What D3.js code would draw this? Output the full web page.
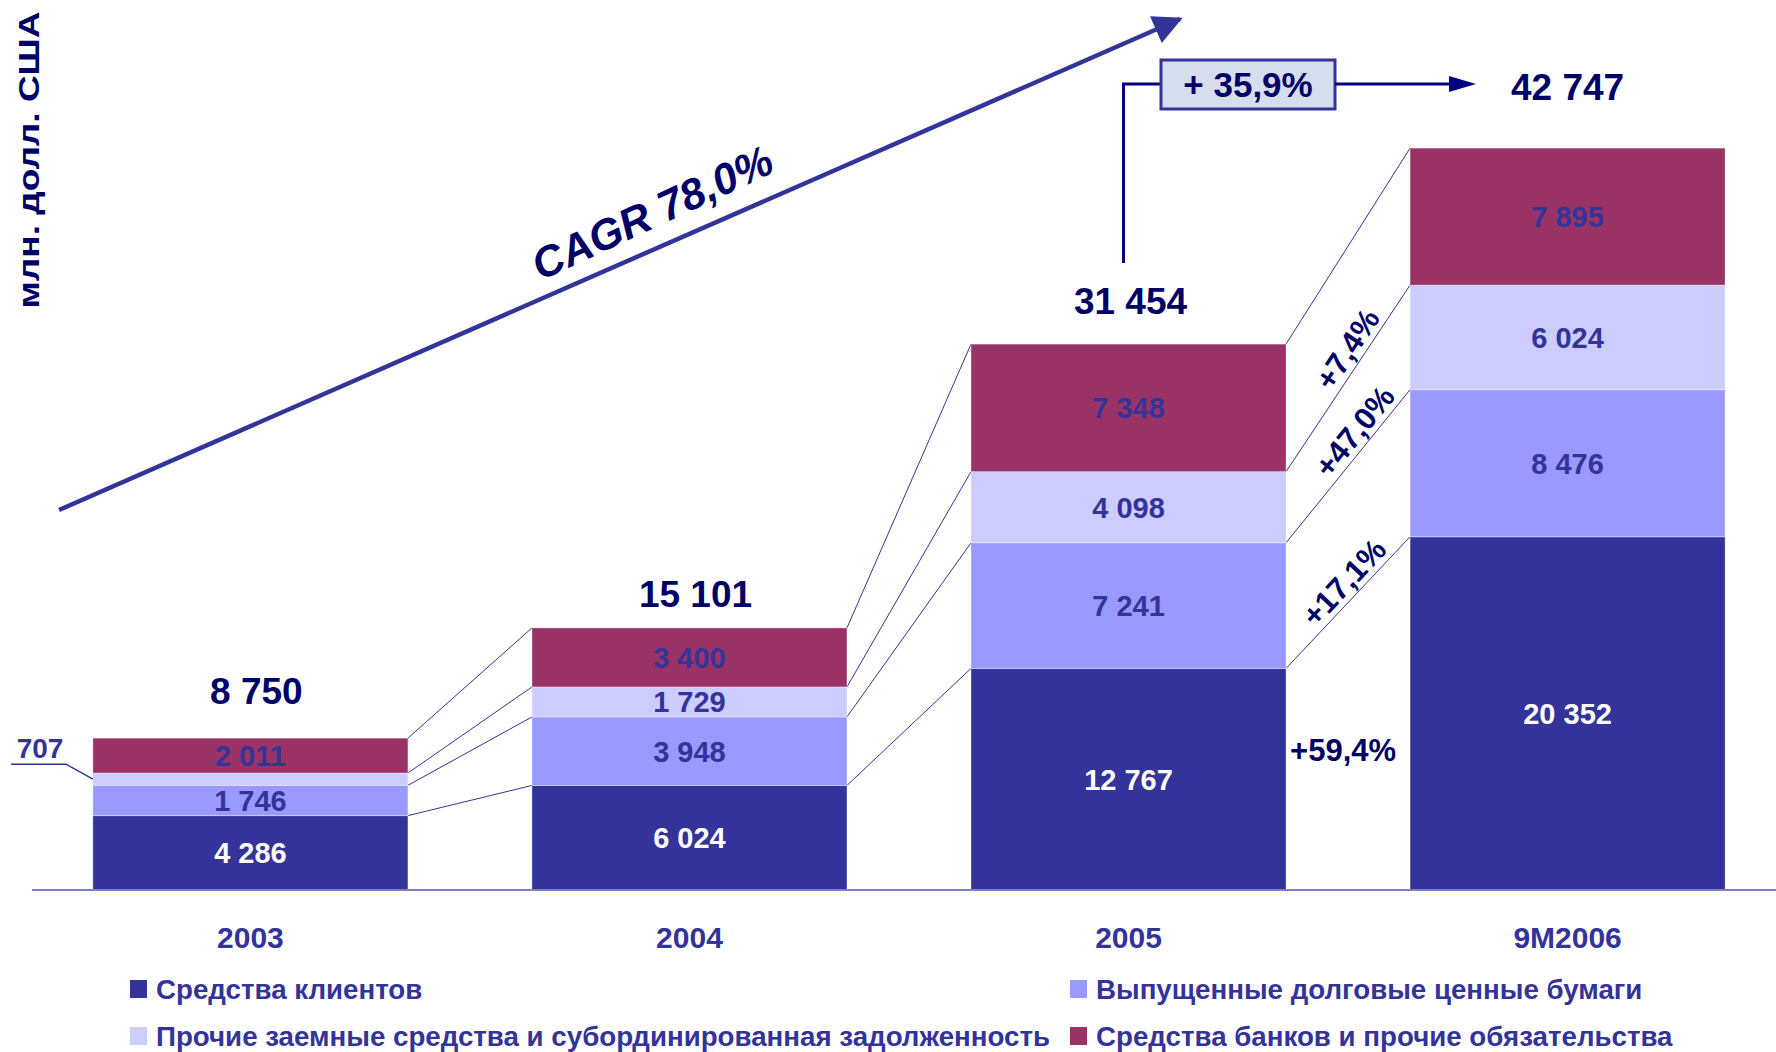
<!DOCTYPE html>
<html>
<head>
<meta charset="utf-8">
<script src="https://cdn.jsdelivr.net/npm/d3@7"></script>
<style>
  body { margin: 0; background: #fff; }
  svg { display: block; font-family: "Liberation Sans", Arial, sans-serif; }
</style>
</head>
<body>
<svg width="1776" height="1052"></svg>
<script>
const categories = ["2003", "2004", "2005", "9M2006"];
const seriesNames = [
  "Средства клиентов",
  "Выпущенные долговые ценные бумаги",
  "Прочие заемные средства и субординированная задолженность",
  "Средства банков и прочие обязательства"
];
const clients = [4286, 6024, 12767, 20352];
const debtSecurities = [1746, 3948, 7241, 8476];
const otherBorrowings = [707, 1729, 4098, 6024];
const banksOther = [2011, 3400, 7348, 7895];
const totals = [8750, 15101, 31454, 42747];
// growth 2005 -> 9M2006 for each series
const growthLabels = ["+59,4%", "+17,1%", "+47,0%", "+7,4%"];
const cagrLabel = "CAGR 78,0%";
const totalGrowthLabel = "+ 35,9%";
const yTitle = "млн. долл. США";

const colors = ["#333399", "#9999ff", "#ccccff", "#993366"];
const labelColors = ["#ffffff", "#333399", "#333399", "#333399"];
const navy = "#000066";

const svg = d3.select("svg");
const keys = ["s0", "s1", "s2", "s3"];
const rows = categories.map((c, i) => ({
  cat: c, s0: clients[i], s1: debtSecurities[i], s2: otherBorrowings[i], s3: banksOther[i]
}));
const stacked = d3.stack().keys(keys)(rows);

const x = d3.scaleBand().domain(categories)
    .range([31, 1787]).paddingInner(0.2825).paddingOuter(0.141);
const y = d3.scaleLinear().domain([0, 45000]).range([890, 109]);
const bw = x.bandwidth();

const fmt = d3.formatLocale({decimal: ",", thousands: " ", grouping: [3], currency: ["", ""]}).format(",d");

// connector lines between neighbouring bars
const conn = svg.append("g").attr("class", "connectors");
stacked.forEach(layer => {
  for (let i = 0; i < categories.length - 1; i++) {
    conn.append("line")
        .attr("x1", x(categories[i]) + bw).attr("y1", y(layer[i][1]))
        .attr("x2", x(categories[i + 1])).attr("y2", y(layer[i + 1][1]))
        .attr("stroke", "#333399").attr("stroke-width", 1);
  }
});

// bars
const layers = svg.append("g").attr("class", "bars")
  .selectAll("g").data(stacked).enter().append("g")
    .attr("fill", (d, i) => colors[i]);

layers.selectAll("rect").data(d => d).enter().append("rect")
    .attr("x", d => x(d.data.cat))
    .attr("y", d => y(d[1]))
    .attr("width", bw)
    .attr("height", d => y(d[0]) - y(d[1]))
    .attr("stroke", "rgba(255,255,255,0.35)")
    .attr("stroke-width", 1);

// segment labels
stacked.forEach((layer, li) => {
  layer.forEach(d => {
    const h = y(d[0]) - y(d[1]);
    if (h < 22) return;
    svg.append("text")
        .attr("x", x(d.data.cat) + bw / 2)
        .attr("y", (y(d[0]) + y(d[1])) / 2)
        .attr("dy", "0.36em")
        .attr("text-anchor", "middle")
        .attr("font-size", 29).attr("font-weight", "bold")
        .attr("fill", labelColors[li])
        .text(fmt(d[1] - d[0]));
  });
});

// callout for the small 2003 segment
const small = stacked[2][0];
const smallY = (y(small[0]) + y(small[1])) / 2;
svg.append("polyline")
    .attr("points", [[11, smallY - 15], [66, smallY - 15], [x(categories[0]), smallY]].join(" "))
    .attr("fill", "none").attr("stroke", "#333399").attr("stroke-width", 1.5);
svg.append("text")
    .attr("x", 40).attr("y", smallY - 21)
    .attr("text-anchor", "middle")
    .attr("font-size", 28).attr("font-weight", "bold")
    .attr("fill", "#333399")
    .text(fmt(otherBorrowings[0]));

// totals
const totalGap = [34, 21, 30, 48];
const totalShift = [6, 6, 2, 0];
svg.append("g").selectAll("text").data(totals).enter().append("text")
    .attr("x", (d, i) => x(categories[i]) + bw / 2 + totalShift[i])
    .attr("y", (d, i) => y(d) - totalGap[i])
    .attr("text-anchor", "middle")
    .attr("font-size", 37).attr("font-weight", "bold")
    .attr("fill", navy)
    .text(d => fmt(d));

// baseline
svg.append("line")
    .attr("x1", 32).attr("x2", 1776).attr("y1", y(0)).attr("y2", y(0))
    .attr("stroke", "#8080c0").attr("stroke-width", 2);

// category axis
const xAxis = svg.append("g")
    .attr("transform", `translate(0,${y(0)})`)
    .call(d3.axisBottom(x).tickSize(0).tickPadding(37));
xAxis.select(".domain").remove();
xAxis.selectAll("text")
    .attr("font-size", 30).attr("font-weight", "bold")
    .attr("font-family", "Liberation Sans, Arial, sans-serif")
    .attr("fill", "#333399");

// growth labels 2005 -> 9M2006
const i5 = 2, i6 = 3;
const gx1 = x(categories[i5]) + bw, gx2 = x(categories[i6]);
const slide = [0, 12, 31, 24];
stacked.forEach((layer, li) => {
  if (li === 0) {
    const my = ((y(layer[i5][0]) + y(layer[i5][1])) / 2 + (y(layer[i6][0]) + y(layer[i6][1])) / 2) / 2;
    svg.append("text")
        .attr("x", (gx1 + gx2) / 2 - 5).attr("y", my + 4)
        .attr("dy", "0.36em")
        .attr("text-anchor", "middle")
        .attr("font-size", 31).attr("font-weight", "bold")
        .attr("fill", navy)
        .text(growthLabels[li]);
  } else {
    const lower = stacked[li - 1];
    const ya = y(lower[i5][1]), yb = y(lower[i6][1]);
    const ang = Math.atan2(yb - ya, gx2 - gx1) * 180 / Math.PI;
    const cx = (gx1 + gx2) / 2, cy = (ya + yb) / 2;
    svg.append("text")
        .attr("transform", `translate(${cx},${cy}) rotate(${ang})`)
        .attr("x", slide[li]).attr("y", -6)
        .attr("text-anchor", "middle")
        .attr("font-size", 31).attr("font-weight", "bold")
        .attr("fill", navy)
        .text(growthLabels[li]);
  }
});

// CAGR arrow
const defs = svg.append("defs");
defs.append("marker")
    .attr("id", "headA").attr("viewBox", "0 0 10 10")
    .attr("refX", 9).attr("refY", 5)
    .attr("markerWidth", 8).attr("markerHeight", 6.5)
    .attr("markerUnits", "strokeWidth")
    .attr("orient", "auto")
  .append("path").attr("d", "M0,0 L10,5 L0,10 Z").attr("fill", "#333399");

svg.append("line")
    .attr("x1", 59).attr("y1", 510).attr("x2", 1180).attr("y2", 19)
    .attr("stroke", "#333399").attr("stroke-width", 4.5)
    .attr("marker-end", "url(#headA)");

svg.append("text")
    .attr("transform", "translate(652,212) rotate(-25)")
    .attr("text-anchor", "middle")
    .attr("dy", "0.36em")
    .attr("font-size", 43).attr("font-weight", "bold").attr("font-style", "italic")
    .attr("fill", navy)
    .text(cagrLabel);

// +35,9% connector from 2005 total to 9M2006 total
const vx = x(categories[2]) + bw / 2 - 5;
svg.append("polyline")
    .attr("points", [[vx, 263], [vx, 84], [1161, 84]].join(" "))
    .attr("fill", "none").attr("stroke", "#000080").attr("stroke-width", 3);
svg.append("rect")
    .attr("x", 1161).attr("y", 60).attr("width", 174).attr("height", 49)
    .attr("fill", "#d6deee").attr("stroke", "#333399").attr("stroke-width", 3);
svg.append("text")
    .attr("x", 1248).attr("y", 84).attr("dy", "0.36em")
    .attr("text-anchor", "middle")
    .attr("font-size", 35).attr("font-weight", "bold")
    .attr("fill", navy)
    .text(totalGrowthLabel);
svg.append("line")
    .attr("x1", 1335).attr("y1", 84).attr("x2", 1452).attr("y2", 84)
    .attr("stroke", "#000080").attr("stroke-width", 3);
svg.append("path")
    .attr("d", "M1449,76 L1476,84 L1449,92 Z")
    .attr("fill", "#000080");

// y title
svg.append("text")
    .attr("transform", "translate(29,160) rotate(-90)")
    .attr("text-anchor", "middle")
    .attr("dy", "0.36em")
    .attr("font-size", 29).attr("font-weight", "bold")
    .attr("textLength", 297).attr("lengthAdjust", "spacingAndGlyphs")
    .attr("fill", navy)
    .text(yTitle);

// legend
const legendPos = [[130, 989], [1070, 989], [130, 1036], [1070, 1036]];
const legend = svg.append("g").selectAll("g").data(seriesNames).enter().append("g")
    .attr("transform", (d, i) => `translate(${legendPos[i][0]},${legendPos[i][1]})`);
legend.append("rect")
    .attr("x", 0).attr("y", -9).attr("width", 17).attr("height", 18)
    .attr("fill", (d, i) => colors[i]);
legend.append("text")
    .attr("x", 26).attr("dy", "0.36em")
    .attr("font-size", 27.7).attr("font-weight", "bold")
    .attr("fill", "#333399")
    .text(d => d);
</script>
</body>
</html>
